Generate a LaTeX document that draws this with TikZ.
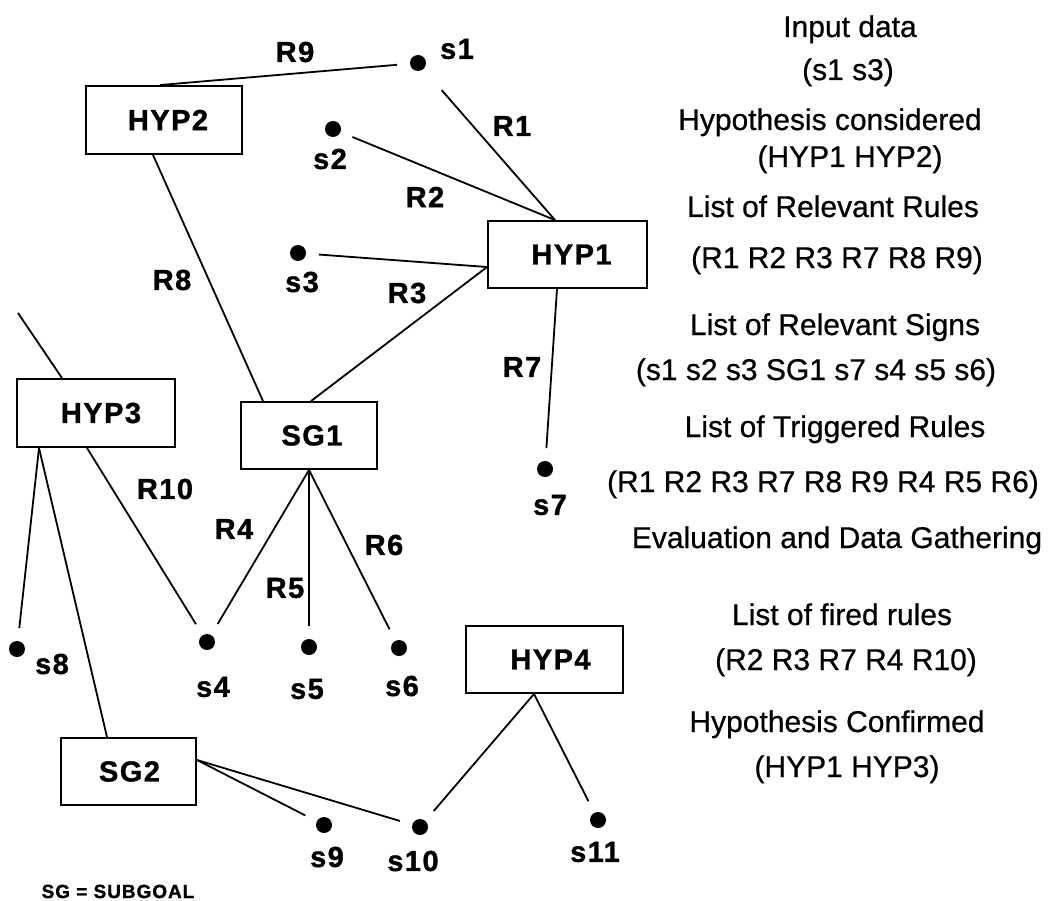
\documentclass[tikz,border=0pt]{standalone}
\usepackage{fontspec}
\setmainfont{Liberation Sans}
\newfontfamily\spacedfont[LetterSpace=5,FakeBold=1.2]{Liberation Sans}
\newfontfamily\infofont[FakeBold=0.6]{Liberation Sans}
\usetikzlibrary{calc}
\tikzset{
  box/.style={draw, line width=1.9pt, inner sep=0pt, minimum width=#1},
  boxlbl/.style={font=\spacedfont\bfseries\fontsize{29}{31}\selectfont, inner sep=0pt},
  rlbl/.style={font=\spacedfont\bfseries\fontsize{29}{31}\selectfont, inner sep=0pt, anchor=center},
  sign/.style={circle, fill=black, minimum size=16pt, inner sep=0pt, outer sep=13pt},
  conn/.style={line width=1.8pt},
  info/.style={font=\infofont\fontsize{30}{34}\selectfont, inner sep=0pt, anchor=base},
}
\begin{document}
\begin{tikzpicture}[x=1pt, y=-1pt]
\useasboundingbox (0,0) rectangle (1051,901);

% boxes
\node[box=156pt, minimum height=68pt, label={[boxlbl, xshift=4pt]center:HYP2}] (hyp2) at (164,120) {};
\node[box=159pt, minimum height=67pt, label={[boxlbl, xshift=4pt]center:HYP1}] (hyp1) at (567.5,254.5) {};
\node[box=158pt, minimum height=68pt, label={[boxlbl, xshift=5pt]center:HYP3}] (hyp3) at (96,413) {};
\node[box=136pt, minimum height=67pt, label={[boxlbl, xshift=3pt]center:SG1}] (sg1) at (309,435.5) {};
\node[box=157pt, minimum height=67pt, label={[boxlbl, xshift=6pt]center:HYP4}] (hyp4) at (544.5,659.5) {};
\node[box=135pt, minimum height=67pt, label={[boxlbl, xshift=1pt]center:SG2}] (sg2) at (128.5,771.5) {};

% signs
\node[sign] (s1) at (418,63) {};
\node[sign] (s2) at (333,129) {};
\node[sign] (s3) at (298,253) {};
\node[sign] (s7) at (545,469) {};
\node[sign] (s8) at (17,649) {};
\node[sign] (s4) at (207,642) {};
\node[sign] (s5) at (309,647) {};
\node[sign] (s6) at (399,648) {};
\node[sign] (s9) at (324,825) {};
\node[sign] (s10) at (420,827) {};
\node[sign] (s11) at (598,820) {};

% sign labels
\node[rlbl] (ls1) at (457,49) {s1};
\node[rlbl] (ls2) at (330,159) {s2};
\node[rlbl] (ls3) at (302,282) {s3};
\node[rlbl] (ls7) at (550,505) {s7};
\node[rlbl] (ls8) at (52,664) {s8};
\node[rlbl] (ls4) at (213,687) {s4};
\node[rlbl] (ls5) at (307,689) {s5};
\node[rlbl] (ls6) at (402,686) {s6};
\node[rlbl] (ls9) at (327,857) {s9};
\node[rlbl] (ls10) at (413,861) {s10};
\node[rlbl] (ls11) at (595,852) {s11};

% connectors
\draw[conn] ($(hyp2.north)+(-4,0)$) -- (s1);
\draw[conn, shorten <=15pt] (s1) -- ($(hyp1.north)+(-12.5,0)$);
\draw[conn] (s2) -- ($(hyp1.north)+(-12.5,0)$);
\draw[conn] (s3) -- ($(hyp1.west)+(0,12.5)$);
\draw[conn] ($(hyp1.west)+(0,12.5)$) -- ($(sg1.north)+(2,0)$);
\draw[conn] ($(hyp2.south)+(-11,0)$) -- ($(sg1.north)+(-46,0)$);
\draw[conn] ($(hyp1.south)+(-10.5,0)$) -- (s7);
\coordinate (h3free) at (18,313);
\draw[conn] (h3free) -- ($(hyp3.north)+(-34,0)$);
\draw[conn] ($(hyp3.south)+(-57,0)$) -- (s8);
\draw[conn] ($(hyp3.south)+(-57,0)$) -- ($(sg2.north)+(-21.5,0)$);
\draw[conn] ($(hyp3.south)+(-9,0)$) -- (s4);
\draw[conn] (sg1.south) -- (s4);
\draw[conn] (sg1.south) -- (s5);
\draw[conn] (sg1.south) -- (s6);
\draw[conn] ($(sg2.east)+(0,-11.5)$) -- (s9);
\draw[conn] ($(sg2.east)+(0,-11.5)$) -- (s10);
\draw[conn] ($(hyp4.south)+(-10.5,0)$) -- (s10);
\draw[conn] ($(hyp4.south)+(-10.5,0)$) -- (s11);

% rule labels
\node[rlbl] (r9) at (295,52) {R9};
\node[rlbl] (r1) at (512,126) {R1};
\node[rlbl] (r2) at (425,197) {R2};
\node[rlbl] (r8) at (172,280) {R8};
\node[rlbl] (r3) at (407,293) {R3};
\node[rlbl] (r7) at (522,367) {R7};
\node[rlbl] (r10) at (165,489) {R10};
\node[rlbl] (r4) at (234,529) {R4};
\node[rlbl] (r5) at (285,588) {R5};
\node[rlbl] (r6) at (384,545) {R6};

% legend
\node[font=\spacedfont\bfseries\fontsize{19}{21}\selectfont, inner sep=0pt, anchor=base] (legend) at (118,898) {SG = SUBGOAL};

% right column
\node[info] (t1) at (850,37) {Input data};
\node[info] (t2) at (848,80) {(s1 s3)};
\node[info] (t3) at (830,130) {Hypothesis considered};
\node[info] (t4) at (850,167) {(HYP1 HYP2)};
\node[info] (t5) at (833,217) {List of Relevant Rules};
\node[info] (t6) at (837,268) {(R1 R2 R3 R7 R8 R9)};
\node[info] (t7) at (835,335) {List of Relevant Signs};
\node[info] (t8) at (816,380) {(s1 s2 s3 SG1 s7 s4 s5 s6)};
\node[info] (t9) at (835,437) {List of Triggered Rules};
\node[info] (t10) at (823,492) {(R1 R2 R3 R7 R8 R9 R4 R5 R6)};
\node[info] (t11) at (837,548) {Evaluation and Data Gathering};
\node[info] (t12) at (842,625) {List of fired rules};
\node[info] (t13) at (846,670) {(R2 R3 R7 R4 R10)};
\node[info] (t14) at (837,732) {Hypothesis Confirmed};
\node[info] (t15) at (847,777) {(HYP1 HYP3)};
\end{tikzpicture}
\end{document}
